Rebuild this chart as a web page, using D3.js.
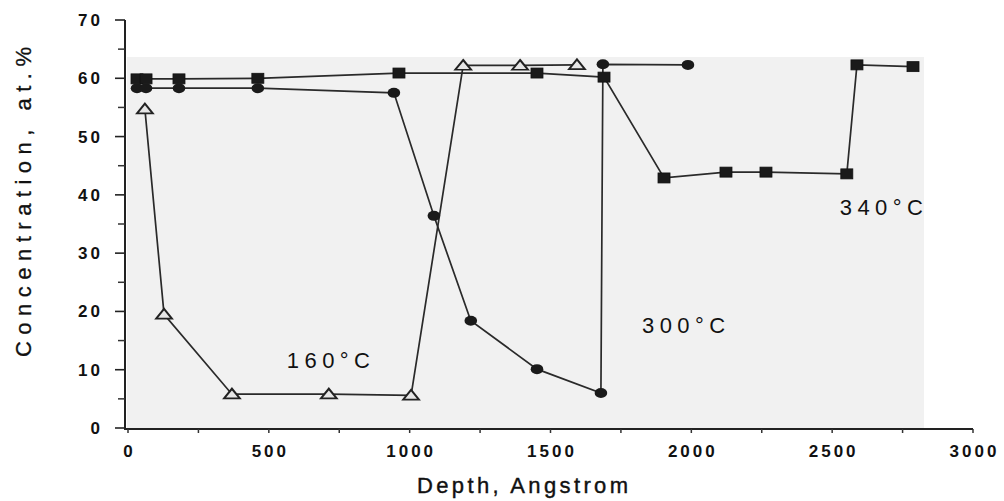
<!DOCTYPE html>
<html><head><meta charset="utf-8">
<script src="https://cdn.jsdelivr.net/npm/d3@7"></script>
<style>
html,body{margin:0;padding:0;background:#fff;}
svg{display:block;}
text{font-family:"Liberation Sans",Arial,sans-serif;fill:#111;}
</style></head>
<body>
<svg id="chart" width="1004" height="501"></svg>
<script>
// ---- data ----
const depth160 = [60, 128, 369, 713, 1005, 1190, 1392, 1594];
const conc160  = [54.7, 19.5, 5.8, 5.8, 5.6, 62.2, 62.2, 62.3];

const depth300 = [32, 64, 181, 461, 944, 1086, 1217, 1452, 1679, 1686, 1988];
const conc300  = [58.3, 58.3, 58.3, 58.3, 57.5, 36.4, 18.4, 10.1, 6.0, 62.4, 62.3];

const depth340 = [32, 64, 181, 461, 962, 1452, 1690, 1903, 2123, 2265, 2552, 2588, 2787];
const conc340  = [59.9, 59.9, 59.9, 60.0, 60.9, 60.9, 60.2, 42.9, 43.9, 43.9, 43.6, 62.3, 62.0];

const xTicks = [0, 500, 1000, 1500, 2000, 2500, 3000];
const yTicks = [0, 10, 20, 30, 40, 50, 60, 70];
const labelNames  = ["160°C", "300°C", "340°C"];
const labelDepths = [564, 1825, 2527];
const labelConcs  = [10.3, 16.3, 36.5];

// ---- scales ----
const x = d3.scaleLinear().domain([0, 3000]).range([128, 973]);
const y = d3.scaleLinear().domain([0, 70]).range([428, 20]);

const svg = d3.select("#chart");

// scanned-page grey panel
svg.append("rect").attr("x", 127).attr("y", 57).attr("width", 797).attr("height", 371)
  .attr("fill", "#f1f1f1");

// ---- axes ----
const yAxisX = 125, xAxisY = 429;
const ya = svg.append("g").attr("transform", `translate(${yAxisX},0)`);
ya.append("line").attr("x1",0).attr("x2",0).attr("y1", y(70)).attr("y2", xAxisY+1)
  .attr("stroke","#222").attr("stroke-width",2);
ya.selectAll(".minor").data(d3.range(5, 70, 10)).join("line")
  .attr("x1",-7).attr("x2",0).attr("y1",d=>y(d)).attr("y2",d=>y(d))
  .attr("stroke","#333").attr("stroke-width",1.5);
ya.selectAll(".major").data(yTicks).join("line")
  .attr("x1",-10).attr("x2",0).attr("y1",d=>y(d)).attr("y2",d=>y(d))
  .attr("stroke","#222").attr("stroke-width",1.6);
ya.selectAll(".lab").data(yTicks).join("text")
  .attr("x", -22).attr("y", d=>y(d)+6)
  .attr("text-anchor","end")
  .style("font-size","17px").style("font-weight","bold").style("letter-spacing","3px")
  .text(d=>d);

const xa = svg.append("g").attr("transform", `translate(0,${xAxisY})`);
xa.append("line").attr("x1", yAxisX).attr("x2", x(3000)).attr("y1",0).attr("y2",0)
  .attr("stroke","#222").attr("stroke-width",2);
xa.selectAll(".tk").data(d3.range(0, 3001, 250)).join("line")
  .attr("x1",d=>x(d)).attr("x2",d=>x(d)).attr("y1",0).attr("y2",4)
  .attr("stroke","#333").attr("stroke-width",1.5);
xa.selectAll(".lab").data(xTicks).join("text")
  .attr("x", d=>x(d)+1.5).attr("y", 28)
  .attr("text-anchor","middle")
  .style("font-size","17px").style("font-weight","bold").style("letter-spacing","3px")
  .text(d=>d);

// axis titles
svg.append("text").attr("x", 417).attr("y", 493)
  .attr("textLength", 211).attr("lengthAdjust","spacing")
  .style("font-size","22px").style("stroke","#111").style("stroke-width","0.4")
  .text("Depth, Angstrom");
svg.append("text").attr("transform","translate(31,357) rotate(-90)")
  .attr("textLength", 310).attr("lengthAdjust","spacing")
  .style("font-size","22px").style("stroke","#111").style("stroke-width","0.3")
  .text("Concentration, at.%");

// ---- series ----
const line = d3.line().x(d=>x(d[0])).y(d=>y(d[1]));
function series(depths, concs){ return depths.map((d,i)=>[d, concs[i]]); }
const s160 = series(depth160, conc160);
const s300 = series(depth300, conc300);
const s340 = series(depth340, conc340);

[s340, s300, s160].forEach(s=>{
  svg.append("path").datum(s).attr("d", line)
    .attr("fill","none").attr("stroke","#2a2a2a").attr("stroke-width",1.7);
});

// squares
svg.selectAll(".sq").data(s340).join("rect")
  .attr("x", d=>x(d[0])-6).attr("y", d=>y(d[1])-5)
  .attr("width", 12).attr("height", 10)
  .attr("fill","#1a1a1a").attr("stroke","#111").attr("stroke-width",0.8);
// circles
svg.selectAll(".ci").data(s300).join("ellipse")
  .attr("cx", d=>x(d[0])).attr("cy", d=>y(d[1]))
  .attr("rx", 6.3).attr("ry", 5)
  .attr("fill","#1a1a1a");
// triangles
const tri = d3.symbol().type(d3.symbolTriangle).size(75);
svg.selectAll(".tr").data(s160).join("path")
  .attr("d", tri)
  .attr("transform", d=>`translate(${x(d[0])},${y(d[1])+1}) scale(1.2,0.85)`)
  .attr("fill","#e6e6e6").attr("stroke","#222").attr("stroke-width",1.9);

// annotations
svg.selectAll(".ann").data(labelNames).join("text")
  .attr("x", (d,i)=>x(labelDepths[i])).attr("y", (d,i)=>y(labelConcs[i]))
  .attr("textLength", 83).attr("lengthAdjust","spacing")
  .style("font-size","22px")
  .text(d=>d);
</script>
</body></html>
